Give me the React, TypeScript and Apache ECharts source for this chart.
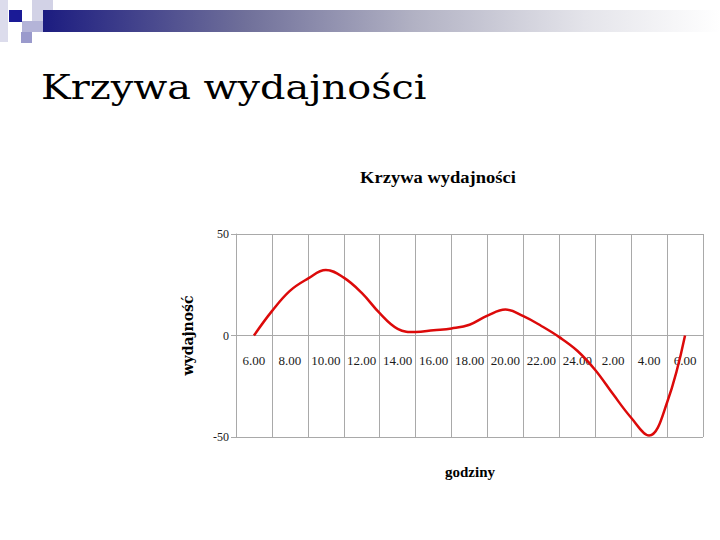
import React, { useEffect, useRef } from "react";
import * as echarts from "echarts";

const hourLabels = ["6.00", "8.00", "10.00", "12.00", "14.00", "16.00", "18.00", "20.00", "22.00", "24.00", "2.00", "4.00", "6.00"];
const curveX = [0, 0.5, 1, 1.5, 2, 2.5, 3, 3.5, 4, 4.5, 5, 5.5, 6, 6.5, 7, 7.5, 8, 8.5, 9, 9.5, 10, 10.5, 11, 11.5, 12];
const curveY = [0, 12, 22, 28, 32.3, 28.5, 21, 11, 3.3, 1.7, 2.6, 3.5, 5.3, 9.8, 12.8, 9.5, 4.7, -0.8, -7.5, -17, -29, -40.5, -49.3, -33, 0];
const yTicks = { min: -50, max: 50, step: 50 };

const SERIF = "'Liberation Serif', 'Times New Roman', serif";
const GRID = "#a9a9a9";

const GRID_TOP = 234;
const GRID_BOTTOM = 103;
const PLOT_H = 540 - GRID_TOP - GRID_BOTTOM;

export default function App() {
  const ref = useRef<HTMLDivElement>(null);
  useEffect(() => {
    if (!ref.current) return;
    const chart = echarts.init(ref.current, null, { renderer: "svg" });
    const barGrad = new echarts.graphic.LinearGradient(0, 0, 1, 0, [
      { offset: 0, color: "#1c1c80" },
      { offset: 0.3, color: "#70709a" },
      { offset: 0.55, color: "#b2b2c4" },
      { offset: 0.8, color: "#e4e4ea" },
      { offset: 1, color: "#ffffff" },
    ]);
    // place the category axis line on the y = 0 level
    const zeroOffset = -PLOT_H * ((0 - yTicks.min) / (yTicks.max - yTicks.min));
    chart.setOption({
      animation: false,
      backgroundColor: "#ffffff",
      graphic: [
        { type: "rect", shape: { x: 0, y: 0, width: 8, height: 42 }, style: { fill: "#dcdcec" }, z: 1 },
        { type: "rect", shape: { x: 32, y: 0, width: 21, height: 22 }, style: { fill: "#d2d2e6" }, z: 1 },
        { type: "rect", shape: { x: 43, y: 10, width: 677, height: 22 }, style: { fill: barGrad }, z: 2 },
        { type: "rect", shape: { x: 22, y: 21, width: 21, height: 11 }, style: { fill: "#b4b4d8" }, z: 2 },
        { type: "rect", shape: { x: 21, y: 32, width: 11, height: 11 }, style: { fill: "#9a9acc" }, z: 2 },
        { type: "rect", shape: { x: 9, y: 10, width: 13, height: 12 }, style: { fill: "#1a1a96" }, z: 3 },
        {
          type: "text",
          x: 41,
          y: 88,
          scaleX: 1.17,
          style: {
            text: "Krzywa wydajności",
            fontFamily: "'DejaVu Serif', serif",
            fontSize: 34,
            fill: "#000000",
            textAlign: "left",
            textVerticalAlign: "middle",
          },
        },
        {
          type: "text",
          x: 438,
          y: 177,
          scaleX: 1.09,
          style: {
            text: "Krzywa wydajności",
            fontFamily: SERIF,
            fontWeight: "bold",
            fontSize: 17,
            fill: "#000000",
            textAlign: "center",
            textVerticalAlign: "middle",
          },
        },
        {
          type: "text",
          x: 470,
          y: 472,
          style: {
            text: "godziny",
            fontFamily: SERIF,
            fontWeight: "bold",
            fontSize: 15,
            fill: "#000000",
            textAlign: "center",
            textVerticalAlign: "middle",
          },
        },
      ],
      grid: { left: 236, right: 17, top: GRID_TOP, bottom: GRID_BOTTOM },
      xAxis: [
        {
          type: "category",
          data: hourLabels,
          boundaryGap: true,
          position: "bottom",
          offset: zeroOffset,
          axisLine: { show: true, onZero: false, lineStyle: { color: GRID, width: 1 } },
          axisTick: { show: false },
          axisLabel: { interval: 0, margin: 18, fontFamily: SERIF, fontSize: 13, color: "#1a1a1a" },
          splitLine: { show: true, interval: 0, lineStyle: { color: GRID, width: 1 } },
        },
        {
          type: "value",
          min: -0.5,
          max: 12.5,
          show: false,
          position: "top",
          axisLine: { onZero: false },
          splitLine: { show: false },
        },
      ],
      yAxis: {
        type: "value",
        min: yTicks.min,
        max: yTicks.max,
        interval: yTicks.step,
        name: "wydajność",
        nameLocation: "middle",
        nameGap: 41,
        nameRotate: 90,
        nameTextStyle: { fontFamily: "'DejaVu Serif', serif", fontWeight: "bold", fontSize: 14, color: "#000000" },
        axisLine: { show: true, onZero: false, lineStyle: { color: GRID } },
        axisTick: { show: true, length: 5, lineStyle: { color: GRID } },
        axisLabel: { margin: 7, fontFamily: SERIF, fontSize: 12, color: "#1a1a1a" },
        splitLine: { show: true, lineStyle: { color: GRID, width: 1 } },
      },
      series: [
        {
          type: "line",
          xAxisIndex: 1,
          data: curveX.map((x, i) => [x, curveY[i]]),
          smooth: 0.4,
          symbol: "none",
          lineStyle: { color: "#dc0a0a", width: 2.5 },
          z: 5,
        },
      ],
    });
    return () => chart.dispose();
  }, []);
  return <div ref={ref} style={{ position: "absolute", left: 0, top: 0, width: 720, height: 540 }} />;
}
